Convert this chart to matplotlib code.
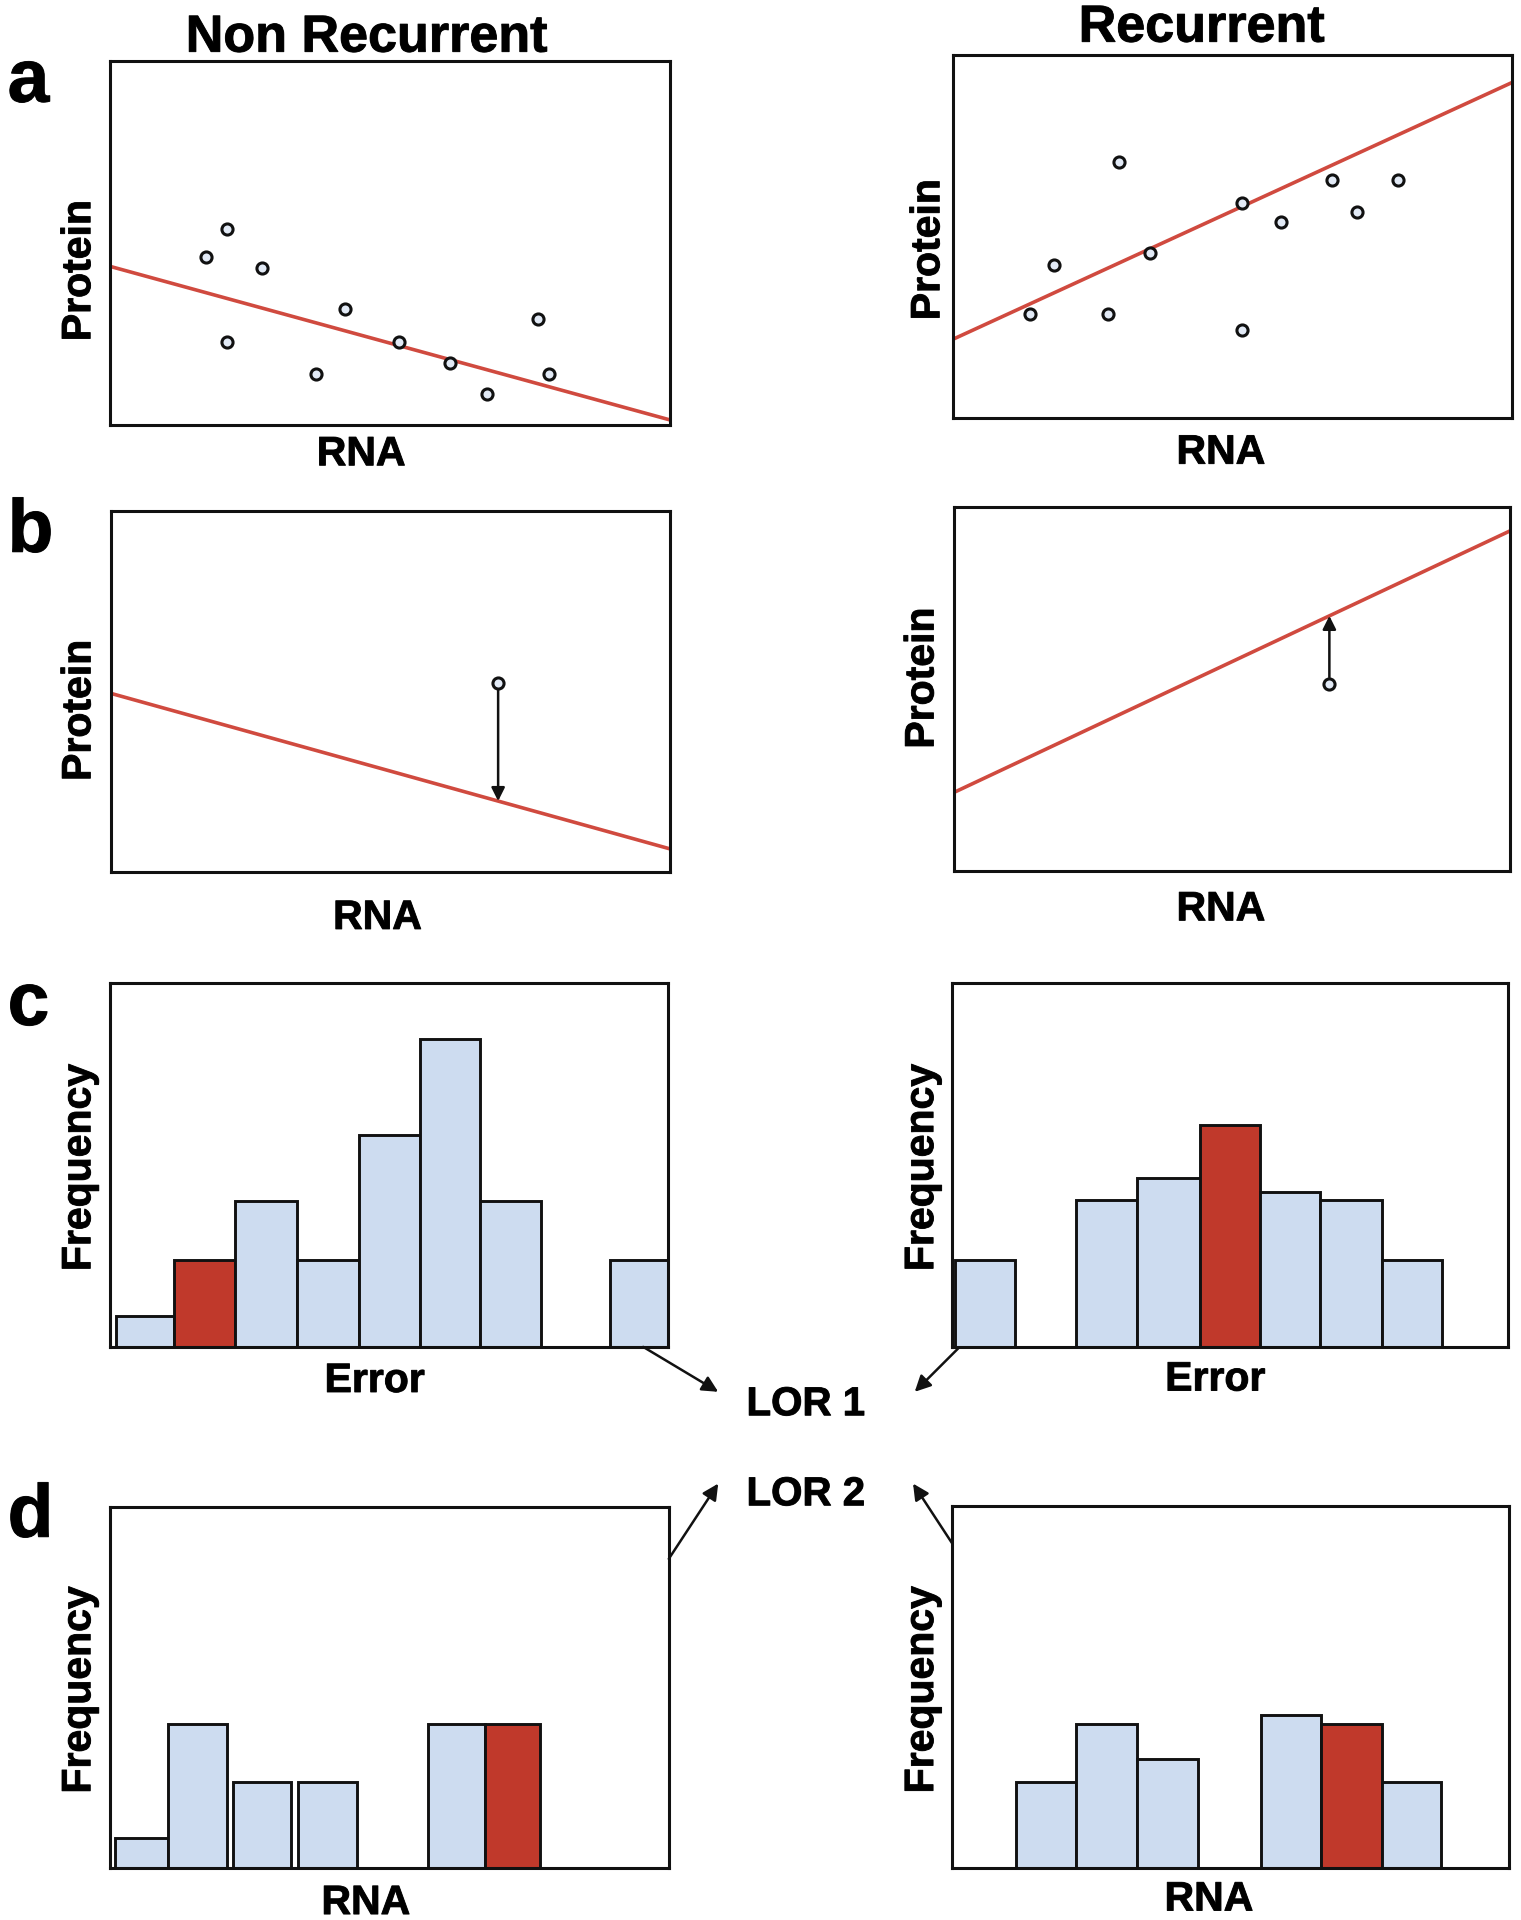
import numpy as np
import matplotlib.pyplot as plt
import matplotlib.patheffects as pe

plt.rcParams['font.family'] = ['Liberation Sans', 'DejaVu Sans']
plt.rcParams['font.weight'] = 'bold'

# panel a: protein vs RNA, arbitrary units on 0-10 axes
nr_rna = [1.71, 2.10, 2.71, 2.10, 3.68, 4.20, 5.17, 6.07, 6.74, 7.65, 7.84]
nr_protein = [4.62, 5.40, 4.32, 2.27, 1.39, 3.20, 2.27, 1.71, 0.84, 2.90, 1.39]
nr_fit = [4.36, 0.14]          # fitted protein at RNA = 0 and RNA = 10
r_rna = [1.37, 1.81, 2.78, 2.97, 3.52, 5.16, 5.16, 5.86, 6.78, 7.23, 7.95]
r_protein = [2.86, 4.22, 2.86, 7.06, 4.54, 5.91, 2.42, 5.40, 6.55, 5.66, 6.55]
r_fit = [2.16, 9.25]

# panel b: one new sample and its residual to the fit
nr_sample = [6.93, 5.24]
nr_fit_b = [4.94, 0.64]
r_sample = [6.75, 5.12]
r_fit_b = [2.15, 9.34]
fit_x = [0, 10]

# panel c: error histograms (bin left edge, bin width, count)
c_nr_left = [0.10, 1.05, 2.05, 3.06, 4.07, 5.08, 6.05, 8.18]
c_nr_width = [0.95, 1.00, 1.01, 1.01, 1.01, 0.97, 1.00, 0.95]
c_nr_count = [1.05, 3.0, 5.0, 3.0, 7.3, 10.6, 5.0, 3.0]
c_nr_hit = 1
c_r_left = [0.04, 2.03, 3.03, 4.05, 5.03, 6.02, 7.03]
c_r_width = [0.99, 1.00, 1.02, 0.98, 0.99, 1.01, 0.98]
c_r_count = [3.0, 5.04, 5.8, 7.63, 5.34, 5.04, 3.0]
c_r_hit = 3

# panel d: RNA histograms
d_nr_left = [0.08, 0.95, 2.02, 3.08, 5.20, 6.14]
d_nr_width = [0.87, 0.97, 0.95, 0.97, 0.94, 0.90]
d_nr_count = [1.04, 4.98, 2.98, 2.98, 4.98, 4.98]
d_nr_hit = 5
d_r_left = [1.04, 2.03, 3.03, 5.05, 6.04, 7.04]
d_r_width = [0.99, 1.00, 1.00, 0.99, 1.00, 0.97]
d_r_count = [2.98, 4.98, 3.78, 5.28, 4.98, 2.98]
d_r_hit = 4

line_red = '#d04a3f'
bar_red = '#c0392b'
bar_blue = '#cddcf0'
dot_fill = '#e2eaf6'
ink = '#111111'
heavy = [pe.withStroke(linewidth=0.7, foreground=ink)]

fig = plt.figure(figsize=(15.21, 19.20), dpi=100)


def frame(rect):
    ax = fig.add_axes(rect)
    ax.set_xticks([])
    ax.set_yticks([])
    for s in ax.spines.values():
        s.set_linewidth(2.2)
        s.set_color(ink)
    return ax


def labels(ax, xl, xl_pos, yl, yl_pos):
    ax.text(xl_pos[0], xl_pos[1], xl, transform=ax.transAxes, ha='center',
            va='baseline', fontsize=29.5, fontweight='bold', path_effects=heavy)
    ax.text(yl_pos[0], yl_pos[1], yl, transform=ax.transAxes, ha='center',
            va='center', rotation=90, fontsize=29.5, fontweight='bold',
            path_effects=heavy)


def scatter_panel(rect, xs, ys, fit, xl_pos, yl_pos):
    ax = frame(rect)
    ax.plot(fit_x, fit, color=line_red, lw=2.6, zorder=2)
    ax.plot(xs, ys, 'o', ms=8, mew=2.2, mfc=dot_fill, mec=ink, zorder=3)
    ax.set_xlim(0, 10)
    ax.set_ylim(0, 10)
    labels(ax, 'RNA', xl_pos, 'Protein', yl_pos)
    return ax


def residual_panel(rect, sample, fit, xl_pos, yl_pos):
    ax = frame(rect)
    ax.plot(fit_x, fit, color=line_red, lw=2.6, zorder=2)
    on_line = np.interp(sample[0], fit_x, fit)
    ax.annotate('', xy=(sample[0], on_line), xytext=(sample[0], sample[1]),
                arrowprops=dict(arrowstyle='-|>', color=ink, lw=1.8,
                                mutation_scale=20, shrinkA=5, shrinkB=0),
                zorder=3)
    ax.plot([sample[0]], [sample[1]], 'o', ms=8, mew=2.2, mfc=dot_fill,
            mec=ink, zorder=4)
    ax.set_xlim(0, 10)
    ax.set_ylim(0, 10)
    labels(ax, 'RNA', xl_pos, 'Protein', yl_pos)
    return ax


def hist_panel(rect, left, width, count, hit, xmax, xl, xl_pos, yl_pos):
    ax = frame(rect)
    colors = [bar_red if i == hit else bar_blue for i in range(len(count))]
    ax.bar(left, count, width=width, align='edge', color=colors,
           edgecolor=ink, linewidth=2.1)
    ax.set_xlim(0, xmax)
    ax.set_ylim(0, 12.5)
    labels(ax, xl, xl_pos, 'Frequency', yl_pos)
    return ax


scatter_panel([0.0723, 0.7787, 0.3679, 0.1894], nr_rna, nr_protein, nr_fit,
              (0.449, -0.111), (-0.055, 0.424))
scatter_panel([0.6265, 0.7825, 0.3679, 0.1888], r_rna, r_protein, r_fit,
              (0.479, -0.127), (-0.044, 0.463))

residual_panel([0.0731, 0.5459, 0.3671, 0.1881], nr_sample, nr_fit_b,
               (0.477, -0.158), (-0.057, 0.447))
residual_panel([0.6273, 0.5466, 0.3655, 0.1894], r_sample, r_fit_b,
               (0.480, -0.137), (-0.057, 0.529))

ax_c1 = hist_panel([0.0723, 0.2985, 0.3671, 0.1894], c_nr_left, c_nr_width,
                   c_nr_count, c_nr_hit, 9.14, 'Error', (0.474, -0.124),
                   (-0.055, 0.493))
ax_c2 = hist_panel([0.6260, 0.2985, 0.3657, 0.1894], c_r_left, c_r_width,
                   c_r_count, c_r_hit, 9.10, 'Error', (0.473, -0.120),
                   (-0.054, 0.493))
ax_d1 = hist_panel([0.0723, 0.0270, 0.3674, 0.1882], d_nr_left, d_nr_width,
                   d_nr_count, d_nr_hit, 9.15, 'RNA', (0.458, -0.127),
                   (-0.055, 0.493))
ax_d2 = hist_panel([0.6260, 0.0270, 0.3663, 0.1884], d_r_left, d_r_width,
                   d_r_count, d_r_hit, 9.12, 'RNA', (0.461, -0.117),
                   (-0.054, 0.493))

# column titles and panel letters
fig.text(0.241, 0.9731, 'Non Recurrent', ha='center', va='baseline',
         fontsize=37.5, fontweight='bold', path_effects=heavy)
fig.text(0.790, 0.9783, 'Recurrent', ha='center', va='baseline',
         fontsize=37.5, fontweight='bold', path_effects=heavy)
for letter, y in [('a', 0.947), ('b', 0.7126), ('c', 0.4662), ('d', 0.1996)]:
    fig.text(0.0050, y, letter, ha='left', va='baseline', fontsize=54,
             fontweight='bold', path_effects=heavy)

# LOR labels with arrows from the histograms
fig.text(0.4908, 0.2629, 'LOR 1', ha='left', va='baseline', fontsize=29,
         fontweight='bold', path_effects=heavy)
fig.text(0.4908, 0.2160, 'LOR 2', ha='left', va='baseline', fontsize=29,
         fontweight='bold', path_effects=heavy)

arrow_kw = dict(arrowstyle='-|>', color=ink, lw=1.8, mutation_scale=24,
                shrinkA=0, shrinkB=0)
for ax, start, tip in [(ax_c1, (0.955, 0.0), (0.4722, 0.2751)),
                       (ax_c2, (0.011, -0.004), (0.6014, 0.2751)),
                       (ax_d1, (1.0, 0.856), (0.4722, 0.2273)),
                       (ax_d2, (0.0, 0.898), (0.6003, 0.2273))]:
    ax.annotate('', xy=tip, xycoords='figure fraction', xytext=start,
                textcoords='axes fraction', arrowprops=arrow_kw)

fig.savefig('out.png', dpi=100)
